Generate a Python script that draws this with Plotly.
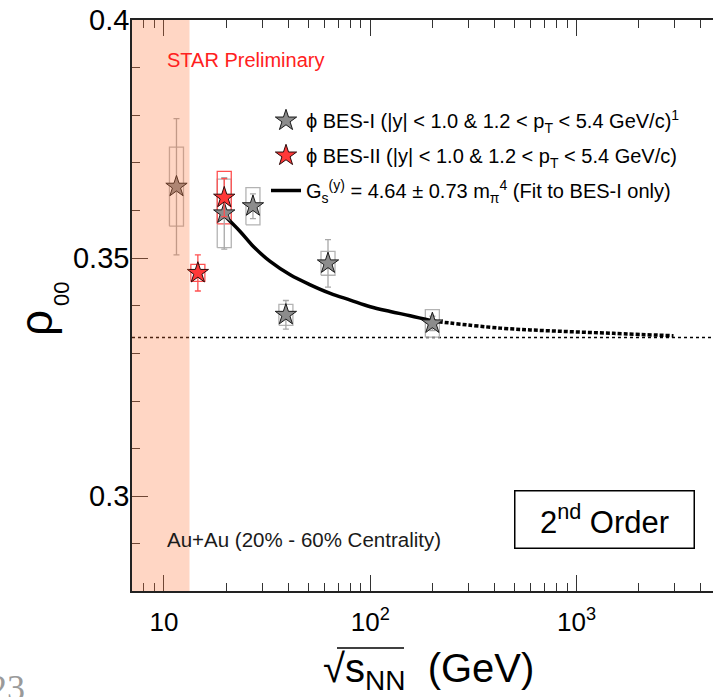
import math
import plotly.graph_objects as go

# ---------------- data ----------------
bes1_energy = [11.5, 19.6, 27, 39, 62.4, 200]
bes1_rho = [0.3650, 0.3594, 0.3609, 0.3381, 0.3489, 0.3363]
bes1_stat = [0.0143, 0.0075, 0.0026, 0.0030, 0.0050, 0.0015]
bes1_sys = [0.0083, 0.0072, 0.0039, 0.0022, 0.0025, 0.0029]

bes2_energy = [14.6, 19.6]
bes2_rho = [0.3469, 0.3627]
bes2_stat = [0.0038, 0.0040]
bes2_sys = [0.0018, 0.0055]

fit_energy = [19.45, 23.4, 27.2, 32.7, 40.9, 51.2, 64.0, 80.0, 100, 125, 156, 200]
fit_rho = [0.3591, 0.3556, 0.3524, 0.3493, 0.3465, 0.3444, 0.3426, 0.3412,
           0.3398, 0.3388, 0.3379, 0.3368]
fit_ext_energy = [200, 427, 773, 1510, 2950]
fit_ext_rho = [0.3368, 0.3353, 0.3347, 0.3342, 0.3337]

baseline_rho = 1.0 / 3.0
band_energy = [7.0, 13.3]

x_tickvals = [10, 100, 1000]
x_ticktext = ["10", "10<sup>2</sup>", "10<sup>3</sup>"]
y_tickvals = [0.3, 0.35, 0.4]
y_ticktext = ["0.3", "0.35", "0.4"]

label_bes1 = "ϕ BES-I (|y| &lt; 1.0 &amp; 1.2 &lt; p<sub>T</sub> &lt; 5.4 GeV/c)<sup>1</sup>"
label_bes2 = "ϕ BES-II (|y| &lt; 1.0 &amp; 1.2 &lt; p<sub>T</sub> &lt; 5.4 GeV/c)"
label_fit = "G<sub>s</sub><sup>(y)</sup> = 4.64 ± 0.73 m<sub>π</sub><sup>4</sup> (Fit to BES-I only)"

# ---------------- helpers ----------------
BOX_HALF_DECADES = 0.034


def sys_boxes(xs, ys, errs):
    bx, by = [], []
    f = 10 ** BOX_HALF_DECADES
    for x, y, e in zip(xs, ys, errs):
        xl, xr = x / f, x * f
        bx += [xl, xr, xr, xl, xl, None]
        by += [y - e, y - e, y + e, y + e, y - e, None]
    return bx, by


FONT = "Liberation Sans, Arial, Helvetica, sans-serif"

fig = go.Figure()

bx1, by1 = sys_boxes(bes1_energy, bes1_rho, bes1_sys)
bx2, by2 = sys_boxes(bes2_energy, bes2_rho, bes2_sys)
fig.add_trace(go.Scatter(x=bx1, y=by1, mode="lines", line=dict(color="#b3b3b3", width=1.3),
                         showlegend=False, hoverinfo="skip"))
fig.add_trace(go.Scatter(x=bx2, y=by2, mode="lines", line=dict(color="#ff5050", width=1.3),
                         showlegend=False, hoverinfo="skip"))

fig.add_trace(go.Scatter(x=fit_energy, y=fit_rho, mode="lines",
                         line=dict(color="black", width=3.5, shape="spline"),
                         name=label_fit, legendrank=3, legendgroup="fit"))
fig.add_trace(go.Scatter(x=fit_ext_energy, y=fit_ext_rho, mode="lines",
                         line=dict(color="black", width=3.5, dash="4px,2px", shape="spline"),
                         showlegend=False))

fig.add_trace(go.Scatter(x=bes1_energy, y=bes1_rho, mode="markers",
                         marker=dict(symbol="star", size=16, color="#8c8c8c",
                                     line=dict(color="#1a1a1a", width=1)),
                         error_y=dict(type="data", array=bes1_stat, color="#a8a8a8",
                                      thickness=1.3, width=3),
                         name=label_bes1, legendrank=1, legendgroup="b1"))
fig.add_trace(go.Scatter(x=bes2_energy, y=bes2_rho, mode="markers",
                         marker=dict(symbol="star", size=16, color="#ff3838",
                                     line=dict(color="#2a0a0a", width=1)),
                         error_y=dict(type="data", array=bes2_stat, color="#ff5050",
                                      thickness=1.3, width=3),
                         name=label_bes2, legendrank=2, legendgroup="b2"))

# baseline 1/3
fig.add_shape(type="line", xref="paper", x0=0, x1=1, yref="y", y0=baseline_rho, y1=baseline_rho,
              line=dict(color="black", width=1.6, dash="3px,3px"), layer="below")
# band
fig.add_shape(type="rect", xref="x", x0=band_energy[0], x1=band_energy[1], yref="paper", y0=0, y1=1,
              fillcolor="rgba(255,120,60,0.3)", line=dict(width=0), layer="above")

PL, PR, PT, PB = 132, 0, 20, 106
W, H = 713, 697
pw, ph = W - PL - PR, H - PT - PB


def px(xp):
    return (xp - PL) / pw


def py(yp):
    return 1 - (yp - PT) / ph


annos = [
    dict(text="STAR Preliminary", x=px(165), y=py(60), xanchor="left", yanchor="middle",
         font=dict(size=20, color="#ff2020")),
    dict(text="Au+Au (20% - 60% Centrality)", x=px(165), y=py(539), xanchor="left", yanchor="middle",
         font=dict(size=20.5, color="#1a1a1a")),
    dict(text="2<sup>nd</sup> Order", x=px(604), y=py(519.5), xanchor="center", yanchor="middle",
         font=dict(size=31, color="black"), bordercolor="black", borderwidth=1.5, borderpad=2,
         width=174, height=52, bgcolor="white"),
    dict(text="√s<sub>NN</sub>  (GeV)", x=px(428), y=py(671), xanchor="center", yanchor="middle",
         font=dict(size=40, color="black")),
    dict(text="ρ", x=px(36), y=py(323), xanchor="center", yanchor="middle",
         textangle=-90, font=dict(size=46, color="black")),
    dict(text="00", x=px(61), y=py(294), xanchor="center", yanchor="middle",
         textangle=-90, font=dict(size=22, color="black")),
    dict(text="23", x=px(27), y=py(666), xanchor="right", yanchor="top",
         font=dict(size=36, color="#9a9a9a", family="Liberation Serif, Times New Roman, serif")),
]
for a in annos:
    a.update(xref="paper", yref="paper", showarrow=False)
    fig.add_annotation(**a)

# overline of the square root
fig.add_shape(type="line", xref="paper", yref="paper", x0=px(337), x1=px(404), y0=py(648), y1=py(648),
              line=dict(color="black", width=1.5))

x0_log = math.log10(7.0)
fig.update_layout(
    width=W, height=H,
    margin=dict(l=PL, r=PR, t=PT, b=PB),
    paper_bgcolor="white", plot_bgcolor="white",
    font=dict(family=FONT, color="black"),
    showlegend=True,
    legend=dict(x=px(266), y=py(101), xanchor="left", yanchor="top", bgcolor="rgba(0,0,0,0)",
                font=dict(size=20, color="black"), itemwidth=30, tracegroupgap=6),
    xaxis=dict(type="log", range=[x0_log, x0_log + pw / 206.3], showline=True, linecolor="#222",
               linewidth=1.5, mirror="ticks", ticks="inside", ticklen=16, tickwidth=1.3,
               tickcolor="#333", tickmode="array", tickvals=x_tickvals, ticktext=x_ticktext,
               tickfont=dict(size=26, color="black"), ticklabelstandoff=7,
               minor=dict(ticks="inside", ticklen=8, tickwidth=1.2, tickcolor="#333", dtick="D1",
                          showgrid=False),
               showgrid=False, zeroline=False),
    yaxis=dict(range=[0.4 - ph / 4762.5, 0.4], showline=True, linecolor="#222", linewidth=1.5,
               ticks="inside", ticklen=16, tickwidth=1.3, tickcolor="#333", tickmode="array",
               tickvals=y_tickvals, ticktext=y_ticktext, tickfont=dict(size=29, color="black"),
               ticklabelstandoff=-5,
               minor=dict(ticks="inside", ticklen=8, tickwidth=1.2, tickcolor="#333", dtick=0.01,
                          tick0=0.3, showgrid=False),
               showgrid=False, zeroline=False),
)

fig.write_html("out.html", config={"displayModeBar": False},
               post_script="document.body.style.margin='0px';")
